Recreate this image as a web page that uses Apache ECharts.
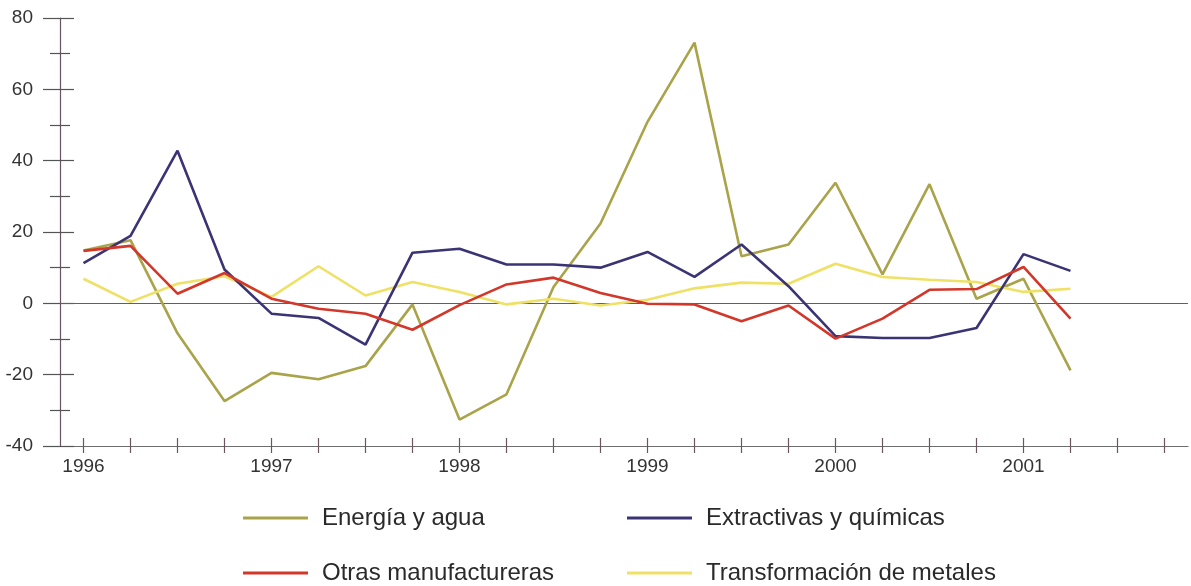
<!DOCTYPE html>
<html>
<head>
<meta charset="utf-8">
<script src="https://cdn.jsdelivr.net/npm/echarts@6/dist/echarts.min.js"></script>
<style>
html,body{margin:0;padding:0;background:#fff;}
#chart{width:1191px;height:586px;}
</style>
</head>
<body>
<div id="chart"></div>
<script>
const years = ['1996','1997','1998','1999','2000','2001'];
const quarters = ['I','II','III','IV'];
const yTicks = { min: -40, max: 80, interval: 20 };

const seriesNames = ['Energía y agua','Extractivas y químicas','Otras manufactureras','Transformación de metales'];

const energia = [14.8, 17.7, -8.4, -27.4, -19.5, -21.3, -17.6, -0.3, -32.6, -25.5, 4.6, 22.4, 50.9, 73.1, 13.2, 16.5, 33.8, 8.1, 33.4, 1.3, 6.9, -18.8];
const extractivas = [11.3, 18.9, 42.8, 9.5, -2.9, -4.1, -11.6, 14.2, 15.3, 10.9, 10.9, 10.0, 14.4, 7.4, 16.5, 4.8, -9.2, -9.7, -9.7, -6.9, 13.8, 9.1];
const otras = [14.7, 16.1, 2.7, 8.5, 1.3, -1.5, -2.9, -7.4, -0.5, 5.3, 7.2, 2.9, -0.1, -0.3, -5.0, -0.6, -9.9, -4.3, 3.8, 4.0, 10.2, -4.3];
const transformacion = [6.9, 0.4, 5.5, 7.6, 1.8, 10.4, 2.2, 6.0, 3.2, -0.3, 1.3, -0.6, 1.0, 4.2, 5.8, 5.5, 11.1, 7.4, 6.6, 6.0, 3.2, 4.1];

const colors = ['#a9a34a', '#3a3474', '#d2372a', '#eee165'];

const categories = [];
years.forEach(y => quarters.forEach(q => categories.push(y + ' ' + q)));

const chart = echarts.init(document.getElementById('chart'), null, {renderer: 'canvas'});

const axisColor = '#6a5263';
const font = "'Liberation Sans', Arial, Helvetica, sans-serif";

function xAx(inside) {
  return {
    type: 'category',
    position: 'bottom',
    data: categories,
    boundaryGap: true,
    axisLine: { show: !inside, onZero: false, lineStyle: { color: '#6d6d6d', width: 1.2 } },
    axisTick: { show: true, alignWithLabel: true, interval: 0, inside: inside, length: inside ? 8 : 7, lineStyle: { color: '#6d5560', width: 1.2 } },
    axisLabel: {
      show: !inside, interval: 3, margin: 11,
      fontFamily: font, fontSize: 19, color: '#333',
      formatter: v => v.split(' ')[0]
    },
    splitLine: { show: false }
  };
}
function yAx(inside) {
  return {
    type: 'value',
    position: 'left',
    min: yTicks.min, max: yTicks.max, interval: yTicks.interval,
    axisLine: { show: !inside, onZero: false, lineStyle: { color: axisColor, width: 1.2 } },
    axisTick: { show: true, inside: inside, length: inside ? 14 : 17, lineStyle: { color: '#555', width: 1.2 } },
    minorTick: { show: true, splitNumber: 2, length: 10, lineStyle: { color: '#555', width: 1.2 } },
    axisLabel: { show: !inside, margin: 27, fontFamily: font, fontSize: 19, color: '#333' },
    splitLine: { show: false }
  };
}

const dataSets = [energia, extractivas, otras, transformacion];
const order = [0, 3, 1, 2];
const series = order.map((i, k) => ({
  name: seriesNames[i],
  type: 'line',
  data: dataSets[i],
  xAxisIndex: 0,
  yAxisIndex: 0,
  symbol: 'none',
  smooth: false,
  z: 3 + k,
  lineStyle: { color: colors[i], width: 2.6 },
  itemStyle: { color: colors[i] },
  markLine: k === 0 ? {
    silent: true, symbol: 'none', label: { show: false },
    lineStyle: { color: '#6a5a68', width: 1.2, type: 'solid' },
    data: [{ yAxis: 0 }],
    z: 1
  } : undefined
}));

const legendPos = [
  { name: seriesNames[0], left: 243, top: 506 },
  { name: seriesNames[1], left: 627, top: 506 },
  { name: seriesNames[2], left: 243, top: 561 },
  { name: seriesNames[3], left: 627, top: 561 }
];

const legends = legendPos.map(p => ({
  data: [p.name],
  left: p.left, top: p.top,
  padding: 0,
  icon: 'rect',
  itemWidth: 65, itemHeight: 3,
  selectedMode: false,
  textStyle: { fontFamily: font, fontSize: 24, color: '#2a2a2a', padding: [0, 0, 0, 9] }
}));

chart.setOption({
  animation: false,
  backgroundColor: '#fff',
  grid: { left: 60, right: 3, top: 18, bottom: 140, containLabel: false },
  xAxis: [xAx(false), xAx(true)],
  yAxis: [yAx(false), yAx(true)],
  legend: legends,
  series: series
});
</script>
</body>
</html>
